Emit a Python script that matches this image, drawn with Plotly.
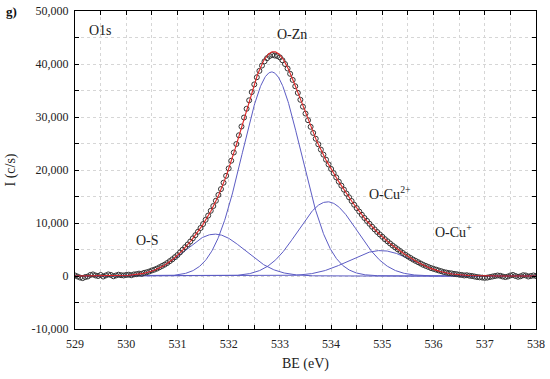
import numpy as np
import plotly.graph_objects as go

# ---- data ----
be_start, be_step = 529.0, 0.05
intensity = [
    100, -100, -300, -400, -200, -100, 200, 300, 100, 0,
    200, -100, 100, 300, 200, -50, 100, 250, 150, 100,
    200, 250, 150, 300, 350, 450, 400, 600, 700, 850,
    1050, 1200, 1400, 1650, 1900, 2150, 2450, 2800, 3150, 3550,
    3950, 4450, 4950, 5450, 5950, 6500, 7100, 7700, 8350, 9050,
    9800, 10600, 11400, 12300, 13200, 14200, 15300, 16400, 17600, 18900,
    20300, 21750, 23300, 24900, 26550, 28200, 29900, 31550, 33150, 34700,
    36150, 37500, 38700, 39700, 40500, 41100, 41500, 41700, 41600, 41500,
    41250, 40700, 40000, 39150, 38150, 37000, 35800, 34550, 33250, 31950,
    30650, 29400, 28150, 27000, 25900, 24850, 23850, 22900, 21950, 21050,
    20200, 19400, 18600, 17800, 17050, 16300, 15550, 14850, 14150, 13450,
    12800, 12150, 11550, 10950, 10400, 9850, 9300, 8800, 8300, 7850,
    7400, 6950, 6550, 6150, 5750, 5400, 5050, 4700, 4350, 4000,
    3700, 3400, 3100, 2850, 2600, 2350, 2100, 1900, 1700, 1500,
    1350, 1200, 1050, 900, 750, 650, 550, 500, 400, 350,
    250, 200, 100, 150, 50, 0, -100, -200, -250, -300,
    -350, -300, -200, -100, 0, 100, 50, -100, -200, -100,
    100, 200, 0, -150, -50, 150, 100, -100, 0, 100,
    0,
]
be = [round(be_start + i * be_step, 2) for i in range(len(intensity))]

# fitted Gaussian components
peak_names = ["O-S", "O-Zn", "O-Cu2+", "O-Cu+"]
peak_centers = [531.73, 532.84, 533.93, 534.97]
peak_heights = [7900, 38500, 14000, 4800]
peak_sigmas = [0.59, 0.57, 0.58, 0.62]

y_tick_vals = [-10000, 0, 10000, 20000, 30000, 40000, 50000]
y_tick_labels = ["-10,000", "0", "10,000", "20,000", "30,000", "40,000", "50,000"]
x_tick_vals = [529, 530, 531, 532, 533, 534, 535, 536, 537, 538]

label_texts = ["O1s", "O-Zn", "O-S", "O-Cu<sup>2+</sup>", "O-Cu<sup>+</sup>"]
label_x = [529.49, 533.23, 530.42, 535.15, 536.38]
label_y = [46400, 45660, 6700, 15700, 8500]

# ---- figure ----
FONT = "Liberation Serif, Times New Roman, serif"
BLUE = "#5c5cc4"
xf = np.linspace(529, 538, 901)
comps = [h * np.exp(-(xf - c) ** 2 / (2 * s ** 2))
         for c, h, s in zip(peak_centers, peak_heights, peak_sigmas)]
envelope = np.sum(comps, axis=0)

fig = go.Figure()
for name, comp in zip(peak_names, comps):
    fig.add_trace(go.Scatter(x=xf, y=comp, mode="lines", name=name,
                             line=dict(color=BLUE, width=1)))
fig.add_trace(go.Scatter(x=be, y=intensity, mode="markers", name="data",
                         marker=dict(symbol="circle-open", size=5, color="#333333",
                                     line=dict(width=1, color="#333333"))))
fig.add_trace(go.Scatter(x=xf, y=envelope, mode="lines", name="fit",
                         line=dict(color="#e02828", width=1.1)))

grid = "#d6d6d6"
fig.update_xaxes(range=[529, 538], tickvals=x_tick_vals, ticks="inside", ticklen=4,
                 tickwidth=1, tickcolor="black", showline=True, linecolor="black",
                 linewidth=1.3, mirror="allticks", showgrid=True, gridcolor=grid,
                 griddash="dot", gridwidth=1, zeroline=False, automargin=False,
                 tickfont=dict(family=FONT, size=12, color="#222"),
                 ticklabelstandoff=3,
                 minor=dict(tickmode="linear", tick0=529.5, dtick=1, ticks="inside",
                            ticklen=4, tickcolor="black", showgrid=True,
                            gridcolor=grid, griddash="dot"),
                 title=dict(text="BE (eV)", font=dict(family=FONT, size=14, color="#222"),
                            standoff=8))
fig.update_yaxes(range=[-10000, 50000], tickvals=y_tick_vals, ticktext=y_tick_labels,
                 ticks="inside", ticklen=4, tickwidth=1, tickcolor="black",
                 showline=True, linecolor="black", linewidth=1.3, mirror="allticks",
                 showgrid=True, gridcolor=grid, griddash="dot", gridwidth=1,
                 zeroline=False, automargin=False,
                 tickfont=dict(family=FONT, size=12, color="#222"),
                 ticklabelstandoff=3,
                 minor=dict(tickmode="linear", tick0=-5000, dtick=10000, ticks="inside",
                            ticklen=4, tickcolor="black", showgrid=True,
                            gridcolor=grid, griddash="dot"),
                 title=dict(text="I (c/s)", font=dict(family=FONT, size=14, color="#222"),
                            standoff=12))

for text, x, y in zip(label_texts, label_x, label_y):
    fig.add_annotation(x=x, y=y, text=text, showarrow=False,
                       font=dict(family=FONT, size=14, color="#222"))
fig.add_annotation(x=-64 / 461, y=1, xref="paper", yref="paper", text="<b>g)</b>",
                   xanchor="center", yanchor="middle", showarrow=False,
                   font=dict(family=FONT, size=13, color="#111"))

fig.update_layout(width=550, height=379, margin=dict(l=75, r=14, t=11, b=50),
                  plot_bgcolor="white", paper_bgcolor="white", showlegend=False)
fig.write_html("out.html", config={"displayModeBar": False},
               post_script="document.body.style.margin='0';document.body.style.overflow='hidden';")
